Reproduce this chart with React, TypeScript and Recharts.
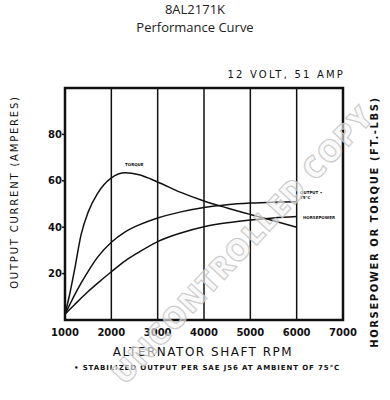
import { LineChart, Line, XAxis, YAxis, CartesianGrid, ReferenceArea } from 'recharts';

// readings off the scanned curve sheet
const rpm = [1000, 1100, 1200, 1350, 1500, 1700, 2000, 2300, 2600, 3000, 3500, 4000, 4500, 5000, 5500, 6000];
const torque = [2.5, 11, 21, 37, 46.5, 54.5, 61.3, 63.5, 62.6, 59.5, 55, 51.3, 48.3, 45.5, 42.8, 40];
const output = [2.5, 6.5, 10.5, 16, 21, 27, 33.5, 38, 41, 44, 46.6, 48.5, 49.7, 50.4, 50.8, 51];
const horsepower = [2.5, 4.5, 6.5, 9.5, 12.3, 15.8, 20.8, 25.5, 29.3, 33.8, 37.5, 40.2, 41.9, 43.1, 44, 44.6];

const rpmTicks = [1000, 2000, 3000, 4000, 5000, 6000, 7000];
const ampTicks = [20, 40, 60, 80];
const hpTicks = [1, 2, 3, 4];

const data = rpm.map((r, i) => ({ rpm: r, torque: torque[i], output: output[i], horsepower: horsepower[i] }));

const plotFont = "'DejaVu Sans', sans-serif";
const tickStyle = { fill: '#111', fontSize: 10, fontWeight: 700, fontFamily: plotFont };

const abs = (extra: React.CSSProperties): React.CSSProperties => ({
  position: 'absolute',
  whiteSpace: 'nowrap',
  fontFamily: plotFont,
  fontWeight: 700,
  color: '#111',
  ...extra,
});

export default function App() {
  return (
    <div style={{ position: 'absolute', left: 0, top: 0, width: 390, height: 400, background: '#fff', overflow: 'hidden' }}>
      <div style={{ position: 'absolute', left: 0, top: 0, width: 390, textAlign: 'center', fontFamily: "'Open Sans', sans-serif", fontSize: 13, color: '#222', lineHeight: '18px' }}>
        <div>8AL2171K</div>
        <div>Performance Curve</div>
      </div>

      <LineChart width={390} height={400} data={data} margin={{ top: 88, right: 0, bottom: 50, left: 0 }}>
        <CartesianGrid stroke="#111" strokeWidth={1.5} />
        <XAxis
          dataKey="rpm"
          type="number"
          domain={[1000, 7000]}
          ticks={rpmTicks}
          tick={tickStyle}
          tickLine={false}
          axisLine={false}
          tickMargin={3}
          height={30}
        />
        <YAxis
          yAxisId="left"
          domain={[0, 100]}
          ticks={ampTicks}
          tick={tickStyle}
          tickSize={3}
          tickLine={{ stroke: '#111', strokeWidth: 1.5 }}
          tickMargin={0}
          axisLine={false}
          width={65}
        />
        <YAxis
          yAxisId="right"
          orientation="right"
          domain={[0, 5]}
          ticks={hpTicks}
          tick={tickStyle}
          tickSize={4}
          tickLine={{ stroke: '#111', strokeWidth: 1.5 }}
          tickMargin={1}
          axisLine={false}
          width={47}
        />
        <ReferenceArea yAxisId="left" x1={1000} x2={7000} y1={0} y2={100} fill="none" stroke="#111" strokeWidth={2.5} />
        <Line yAxisId="left" type="monotone" dataKey="torque" stroke="#111" strokeWidth={1.5} dot={false} isAnimationActive={false} />
        <Line yAxisId="left" type="monotone" dataKey="output" stroke="#111" strokeWidth={1.5} dot={false} isAnimationActive={false} />
        <Line yAxisId="left" type="monotone" dataKey="horsepower" stroke="#111" strokeWidth={1.5} dot={false} isAnimationActive={false} />
      </LineChart>

      <div style={abs({ right: 45, top: 69, fontSize: 10, fontWeight: 400, letterSpacing: 2.2 })}>12 VOLT, 51 AMP</div>
      <div style={abs({ left: 14, top: 192, fontSize: 10, fontWeight: 400, letterSpacing: 1.8, transform: 'translate(-50%, -50%) rotate(-90deg)' })}>
        OUTPUT CURRENT (AMPERES)
      </div>
      <div style={abs({ left: 374, top: 222, fontSize: 10, letterSpacing: 1.6, transform: 'translate(-50%, -50%) rotate(-90deg)' })}>
        HORSEPOWER OR TORQUE (FT.-LBS)
      </div>
      <div style={abs({ left: 203, top: 352, fontSize: 12, fontWeight: 400, letterSpacing: 1.5, transform: 'translate(-50%, -50%)' })}>
        ALTERNATOR SHAFT RPM
      </div>
      <div style={abs({ left: 207, top: 368, fontSize: 7, letterSpacing: 0.9, transform: 'translate(-50%, -50%)' })}>
        • STABILIZED OUTPUT PER SAE J56 AT AMBIENT OF 75°C
      </div>

      <div style={abs({ left: 125, top: 162, fontSize: 4 })}>TORQUE</div>
      <div style={abs({ left: 300, top: 190, fontSize: 4, lineHeight: '5px' })}>
        OUTPUT •<br />75°C
      </div>
      <div style={abs({ left: 303, top: 215, fontSize: 4 })}>HORSEPOWER</div>

      <div
        style={abs({
          left: 242,
          top: 244,
          fontFamily: "'Open Sans', sans-serif",
          fontSize: 30,
          fontWeight: 800,
          letterSpacing: 1.5,
          color: 'rgba(245,245,245,0.6)',
          WebkitTextStroke: '1.2px rgba(195,195,195,0.85)',
          transform: 'translate(-50%, -50%) rotate(-47deg)',
        })}
      >
        UNCONTROLLED COPY
      </div>
    </div>
  );
}
